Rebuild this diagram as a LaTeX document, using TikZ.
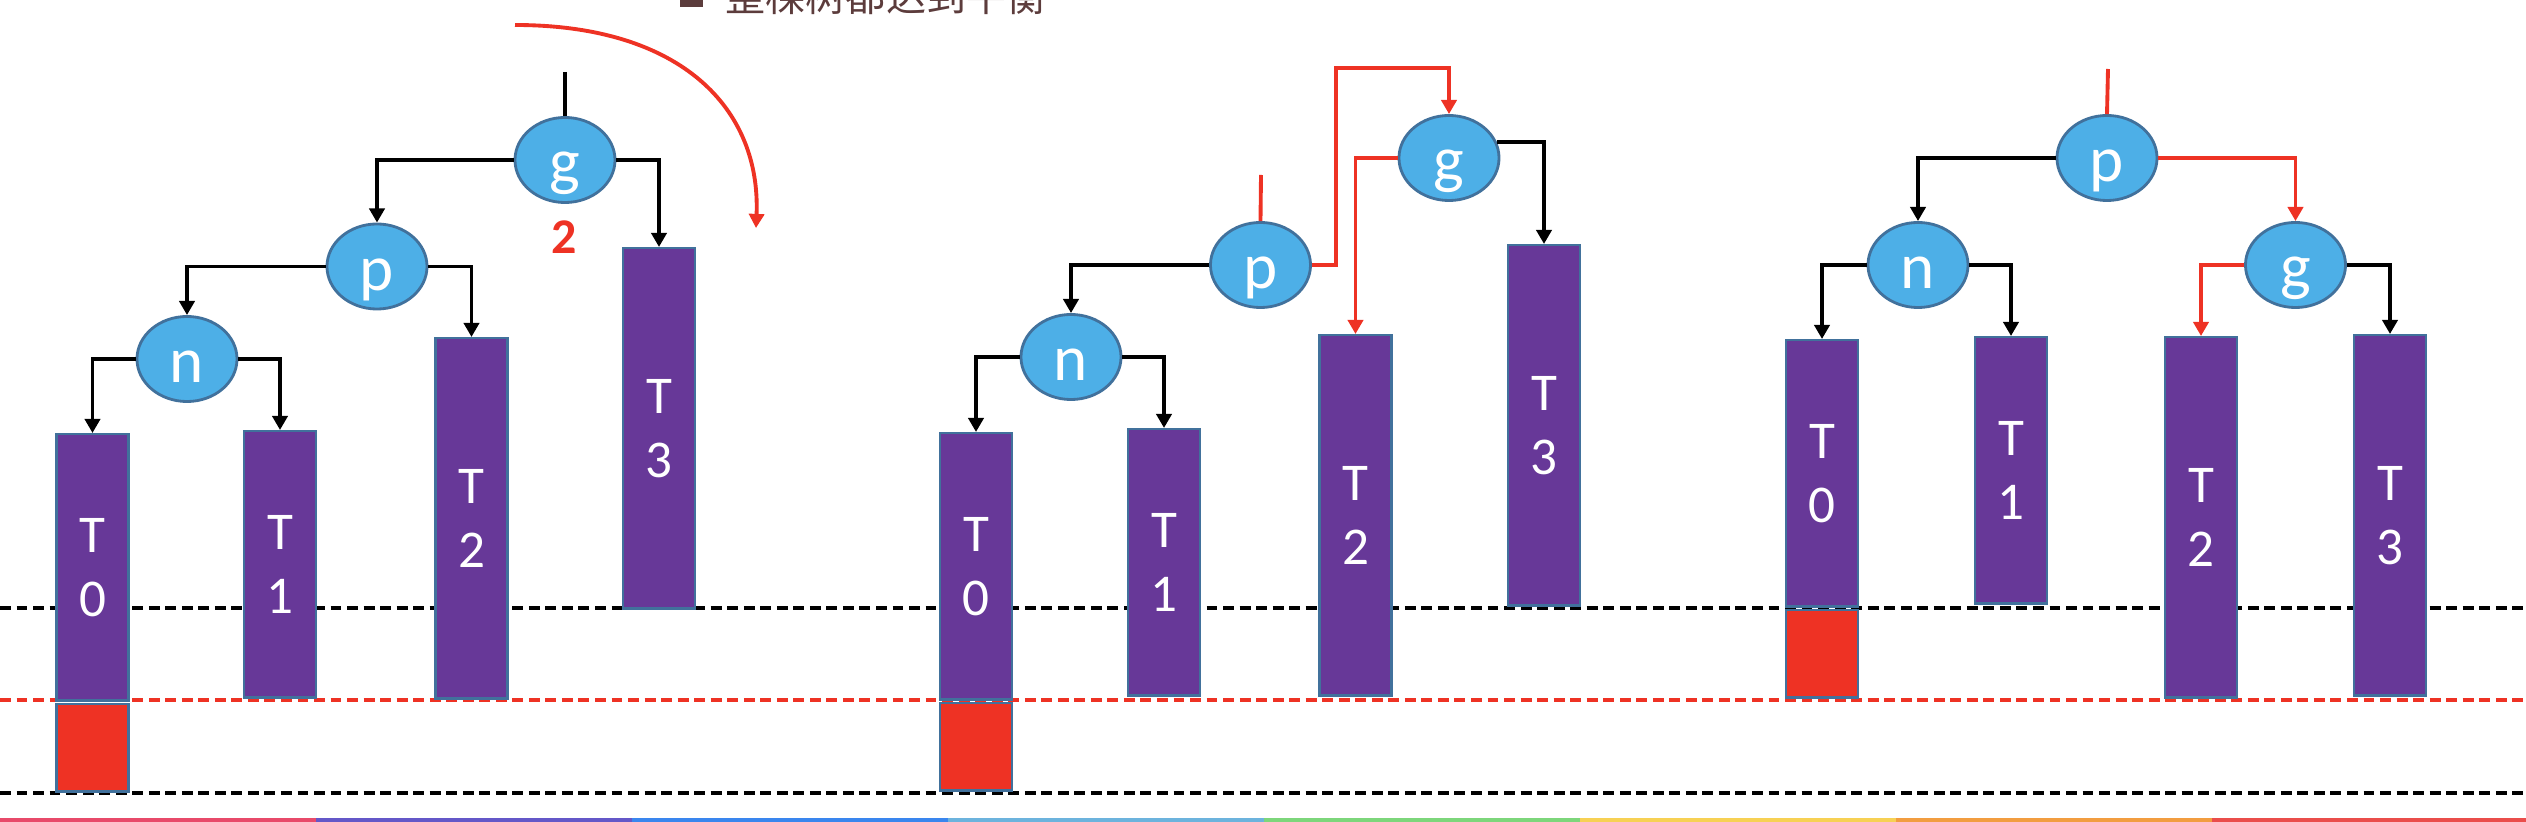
\documentclass[tikz,border=0pt]{standalone}
\usepackage{fontspec}
\usepackage{tikz}
\usetikzlibrary{arrows.meta,shapes.geometric}
\newfontfamily\lblfont{Carlito}
\newfontfamily\cjkfont{Noto Sans CJK SC}
\definecolor{nodeblue}{HTML}{4DAFE7}
\definecolor{edgeblue}{HTML}{41719C}
\definecolor{barpurple}{HTML}{673898}
\definecolor{hotred}{HTML}{EE3224}
\definecolor{titlebrown}{HTML}{5C3C3C}
\definecolor{band1}{HTML}{E84A6A}
\definecolor{band2}{HTML}{6457C8}
\definecolor{band3}{HTML}{3A86EE}
\definecolor{band4}{HTML}{6CB3DD}
\definecolor{band5}{HTML}{7DD67B}
\definecolor{band6}{HTML}{F7D154}
\definecolor{band7}{HTML}{F29D40}
\definecolor{band8}{HTML}{EA4D4B}

\begin{document}
\begin{tikzpicture}[x=0.01cm, y=-0.01cm,
  tnode/.style={ellipse, draw=edgeblue, line width=0.8pt, fill=nodeblue, text=white, minimum width=10mm, minimum height=8.5mm, inner sep=0pt, text height=4.7mm, text depth=0pt, font=\lblfont\fontsize{18.5}{20}\selectfont},
  bar/.style={rectangle, draw=edgeblue, line width=0.7pt, fill=barpurple, text=white, minimum width=7.2mm, minimum height=26.6mm, inner sep=0pt, align=center, anchor=north, font=\lblfont\fontsize{15.1}{18.2}\selectfont},
  tallbar/.style={bar, minimum height=36mm},
  lostbox/.style={rectangle, draw=edgeblue, line width=0.7pt, fill=hotred, minimum width=7.2mm, minimum height=8.7mm, inner sep=0pt, anchor=north},
  link/.style={-{Triangle[length=4pt, width=4.3pt]}, line width=1.1pt},
  redlink/.style={link, draw=hotred},
  stub/.style={line width=1.1pt},
  level/.style={line width=1.3pt, dash pattern=on 3.1pt off 1.6pt},
]
\useasboundingbox (0,0) rectangle (2526,822);
\clip (0,0) rectangle (2526,822);

% Title (cut off at the top)
\fill[titlebrown] (680,-16) rectangle (703,7);
\node[anchor=base west, inner sep=0pt, text=titlebrown, font=\cjkfont\fontsize{11.4}{13}\selectfont] (title) at (725,12) {整棵树都达到平衡};

% Height levels
\draw[level] (0,608) -- (2526,608);
\draw[level, hotred] (0,700) -- (2526,700);
\draw[level] (0,793) -- (2526,793);

% Before rotation
\node[tnode] (g1) at (565,160) {g};
\node[tnode] (p1) at (377,266.5) {p};
\node[tnode] (n1) at (187,359) {n};
\node[bar] (t10) at (92.5,433) {T\\0};
\node[bar] (t11) at (280,430) {T\\1};
\node[tallbar] (t12) at (471.5,337) {T\\2};
\node[tallbar] (t13) at (659,247) {T\\3};
\node[lostbox] (x1) at (92.5,703) {};
\node[font=\lblfont\bfseries\fontsize{14.2}{16}\selectfont, text=hotred, inner sep=0pt] (bf1) at (564,237) {2};

% After rotation
\node[tnode] (g2) at (1449,158) {g};
\node[tnode] (p2) at (1260.5,265) {p};
\node[tnode] (n2) at (1071,357) {n};
\node[bar] (t20) at (976,432) {T\\0};
\node[bar] (t21) at (1164,428) {T\\1};
\node[tallbar] (t22) at (1355.5,334) {T\\2};
\node[tallbar] (t23) at (1544,244) {T\\3};
\node[lostbox] (x2) at (976,702) {};

% Balanced
\node[tnode] (p3) at (2107,158) {p};
\node[tnode] (n3) at (1918,265) {n};
\node[tnode] (g3) at (2295.5,265) {g};
\node[bar] (t30) at (1822,339) {T\\0};
\node[bar] (t31) at (2011,336) {T\\1};
\node[tallbar] (t32) at (2201,336) {T\\2};
\node[tallbar] (t33) at (2390,334) {T\\3};
\node[lostbox] (x3) at (1822,609) {};

% Free ends
\coordinate (up1) at (565,72);
\coordinate (up2) at (1261,175);
\coordinate (up3) at (2108,69);
\coordinate (k2) at (1336,68);
\coordinate (rs) at (515,25);
\coordinate (re) at (756,228);

% Links
\draw[stub] (up1) -- (g1.north);
\draw[link] (g1.west) -| (p1.north);
\draw[link] (g1.east) -| (t13.north);
\draw[link] (p1.west) -| (n1.north);
\draw[link] (p1.east) -| (t12.north);
\draw[link] (n1.west) -| (t10.north);
\draw[link] (n1.east) -| (t11.north);
\draw[redlink] (rs) .. controls (683,25) and (761,110) .. (re);

\draw[stub, hotred] (up2) -- (p2.north);
\draw[redlink] (p2.east) -| (k2) -| (g2.north);
\draw[redlink] (g2.west) -| (t22.north);
\draw[link] (g2.18) -| (t23.north);
\draw[link] (p2.west) -| (n2.north);
\draw[link] (n2.west) -| (t20.north);
\draw[link] (n2.east) -| (t21.north);

\draw[stub, hotred] (up3) -- (p3.north);
\draw[link] (p3.west) -| (n3.north);
\draw[redlink] (p3.east) -| (g3.north);
\draw[link] (n3.west) -| (t30.north);
\draw[link] (n3.east) -| (t31.north);
\draw[redlink] (g3.west) -| (t32.north);
\draw[link] (g3.east) -| (t33.north);

% Bottom band
\foreach \c [count=\i from 0] in {band1,band2,band3,band4,band5,band6,band7,band8}
  \fill[\c] (\i*316,818) rectangle ({(\i+1)*316},822);

\end{tikzpicture}
\end{document}
